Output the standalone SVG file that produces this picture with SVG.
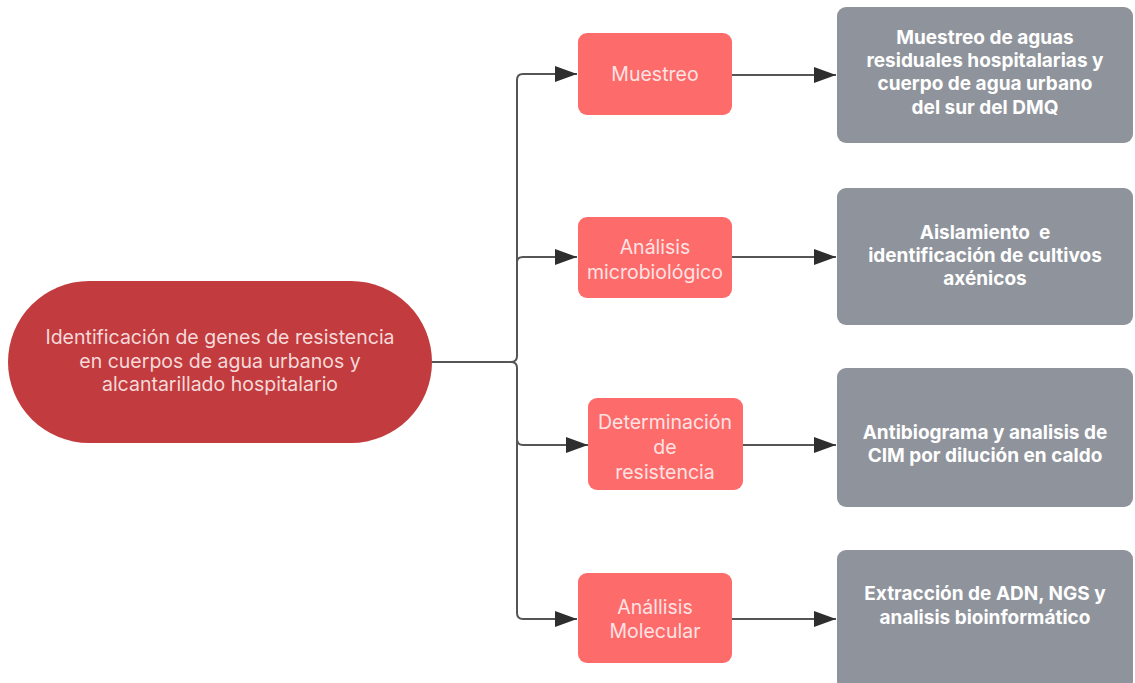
<svg xmlns="http://www.w3.org/2000/svg" width="1135" height="683" viewBox="0 0 1135 683">
<style>
.main{fill:#c23b3e}
.step{fill:#fd6b6b}
.res{fill:#8f949c}
.tm{font-family:Inter,"Liberation Sans",sans-serif;font-size:19.5px;fill:#f6d9d9;text-anchor:middle}
.ts{font-family:Inter,"Liberation Sans",sans-serif;font-size:19.5px;fill:#fde3e3;text-anchor:middle}
.tr{font-family:Inter,"Liberation Sans",sans-serif;font-size:19px;font-weight:700;fill:#ffffff;text-anchor:middle}
.ln{fill:none;stroke:#555;stroke-width:2}
</style>
<defs>
<marker id="ah" viewBox="0 0 22 16" refX="22" refY="8" markerWidth="22" markerHeight="16" markerUnits="userSpaceOnUse" orient="auto">
<path d="M0,0 L22,8 L0,16 Z" fill="#2e2e2e"/>
</marker>
</defs>
<rect width="1135" height="683" fill="#ffffff"/>
<g id="connectors">
<path class="ln" d="M432,362 H511 Q517,362 517,356 V80 Q517,74 523,74 H577" marker-end="url(#ah)"/>
<path class="ln" d="M517,262 Q517,257 523,257 H577" marker-end="url(#ah)"/>
<path class="ln" d="M511,362 Q517,362 517,368 V439 Q517,445 523,445 H588" marker-end="url(#ah)"/>
<path class="ln" d="M517,440 V613 Q517,619 523,619 H577" marker-end="url(#ah)"/>
<path class="ln" d="M732,75 H836" marker-end="url(#ah)"/>
<path class="ln" d="M732,257 H836" marker-end="url(#ah)"/>
<path class="ln" d="M743,445 H836" marker-end="url(#ah)"/>
<path class="ln" d="M732,619 H836" marker-end="url(#ah)"/>
</g>
<g id="root">
<rect class="main" x="8" y="281" width="424" height="162" rx="81"/>
<text class="tm" x="220" y="344">Identificación de genes de resistencia</text>
<text class="tm" x="220" y="368">en cuerpos de agua urbanos y</text>
<text class="tm" x="220" y="391">alcantarillado hospitalario</text>
</g>
<g id="muestreo">
<rect class="step" x="578" y="33" width="154" height="82" rx="9"/>
<text class="ts" x="655" y="81">Muestreo</text>
</g>
<g id="analisis-micro">
<rect class="step" x="578" y="217" width="154" height="81" rx="9"/>
<text class="ts" x="655" y="254">Análisis</text>
<text class="ts" x="655" y="279">microbiológico</text>
</g>
<g id="determinacion">
<rect class="step" x="588" y="398" width="155" height="92" rx="9"/>
<text class="ts" x="665" y="429">Determinación</text>
<text class="ts" x="665" y="454">de</text>
<text class="ts" x="665" y="479">resistencia</text>
</g>
<g id="analisis-mol">
<rect class="step" x="578" y="573" width="154" height="90" rx="9"/>
<text class="ts" x="655" y="614">Anállisis</text>
<text class="ts" x="655" y="638">Molecular</text>
</g>
<g id="res-muestreo">
<rect class="res" x="837" y="7" width="296" height="136" rx="9"/>
<text class="tr" x="985" y="44">Muestreo de aguas</text>
<text class="tr" x="985" y="67">residuales hospitalarias y</text>
<text class="tr" x="985" y="90">cuerpo de agua urbano</text>
<text class="tr" x="985" y="114">del sur del DMQ</text>
</g>
<g id="res-aislamiento">
<rect class="res" x="837" y="188" width="296" height="137" rx="9"/>
<text class="tr" x="985" y="239" style="white-space:pre">Aislamiento  e</text>
<text class="tr" x="985" y="262">identificación de cultivos</text>
<text class="tr" x="985" y="285">axénicos</text>
</g>
<g id="res-antibiograma">
<rect class="res" x="837" y="368" width="296" height="139" rx="9"/>
<text class="tr" x="985" y="439">Antibiograma y analisis de</text>
<text class="tr" x="985" y="462">CIM por dilución en caldo</text>
</g>
<g id="res-extraccion">
<rect class="res" x="837" y="550" width="296" height="140" rx="9"/>
<text class="tr" x="985" y="600">Extracción de ADN, NGS y</text>
<text class="tr" x="985" y="624">analisis bioinformático</text>
</g>
</svg>
